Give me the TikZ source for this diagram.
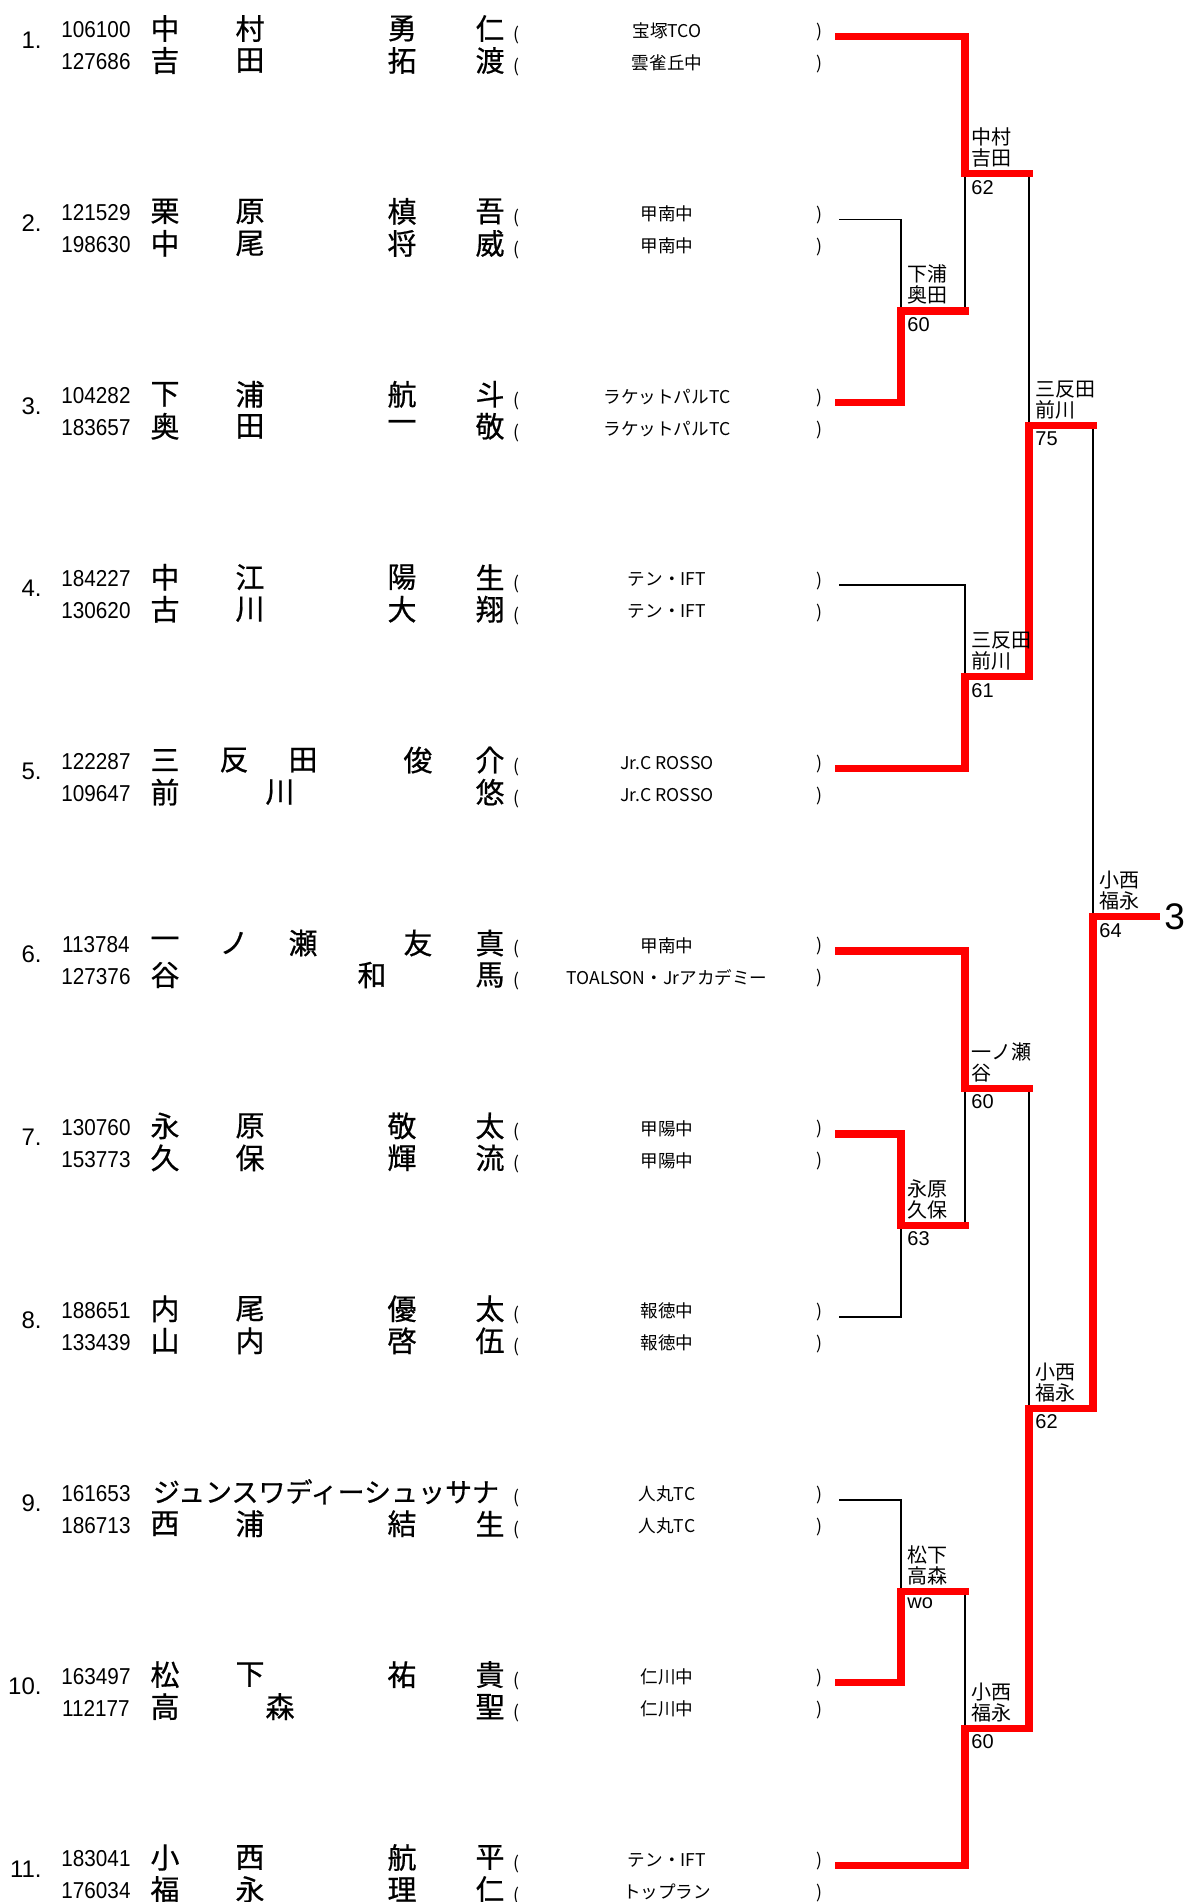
\documentclass[tikz,border=0pt]{standalone}
\usepackage{fontspec}
\setmainfont{Liberation Sans}
\newfontfamily\jpfont{Noto Sans CJK JP}
\newfontfamily\jpnamefont[FakeBold=0.6]{Noto Sans CJK JP}
\newfontfamily\idfont[FakeStretch=0.9]{Liberation Sans}
\usepackage{tikz}
\usetikzlibrary{positioning}

\begin{document}
\begin{tikzpicture}[
      x=0.5pt, y=-0.5pt,
      rowno/.style={font=\fontsize{12}{14}\selectfont, anchor=east, inner sep=0pt},
      pid/.style={font=\idfont\fontsize{11.5}{14}\selectfont, inner sep=0pt},
      nm/.style={font=\jpnamefont\fontsize{14.5}{16}\selectfont, inner sep=0pt},
      kana/.style={font=\jpnamefont\fontsize{13.5}{16}\selectfont, inner sep=0pt},
      club/.style={font=\jpfont\fontsize{8.8}{10}\selectfont, inner sep=0pt},
      lbl/.style={font=\jpfont\fontsize{10}{10.5}\selectfont, align=left, inner sep=0pt},
      score/.style={font=\fontsize{10}{12}\selectfont, inner sep=0pt},
      win/.style={draw=red, line width=3.6pt, line cap=rect},
      lose/.style={draw=black, line width=0.9pt}
    ]
    \useasboundingbox (0,0) rectangle (1186,1902);

    \foreach \r/\ida/\idb/\ca/\cb in {1/106100/127686/宝塚TCO/雲雀丘中, 2/121529/198630/甲南中/甲南中,
        3/104282/183657/ラケットパルTC/ラケットパルTC, 4/184227/130620/テン・IFT/テン・IFT,
        5/122287/109647/Jr.C ROSSO/Jr.C ROSSO, 6/113784/127376/甲南中/TOALSON・Jrアカデミー,
        7/130760/153773/甲陽中/甲陽中, 8/188651/133439/報徳中/報徳中, 9/161653/186713/人丸TC/人丸TC,
        10/163497/112177/仁川中/仁川中, 11/183041/176034/テン・IFT/トップラン}{
      \begin{scope}[shift={(0,{182.9*(\r-1)})}]
        \node[rowno] (no\r) at (42,40) {\r.};
        \node[pid] (ida\r) at (96,30) {\ida};
        \node[pid] (idb\r) at (96,62) {\idb};
        \node[club] (pa\r) at (516,35) {(};
        \node[club] (pb\r) at (516,67) {(};
        \node[club] (ca\r) at (667,31) {\ca};
        \node[club] (cb\r) at (667,63) {\cb};
        \node[club] (qa\r) at (819,32) {)};
        \node[club] (qb\r) at (819,64) {)};
        \coordinate (s\r) at (839,36.5);
      \end{scope}
    }

    \foreach \r/\la/\lb in {1/{165/中,250/村,402/勇,490/仁}/{165/吉,250/田,402/拓,490/渡},
        2/{165/栗,250/原,402/槙,490/吾}/{165/中,250/尾,402/将,490/威},
        3/{165/下,250/浦,402/航,490/斗}/{165/奥,250/田,402/一,490/敬},
        4/{165/中,250/江,402/陽,490/生}/{165/古,250/川,402/大,490/翔},
        5/{165/三,234/反,303/田,418/俊,490/介}/{165/前,280/川,490/悠},
        6/{165/一,234/ノ,303/瀬,418/友,490/真}/{165/谷,372/和,490/馬},
        7/{165/永,250/原,402/敬,490/太}/{165/久,250/保,402/輝,490/流},
        8/{165/内,250/尾,402/優,490/太}/{165/山,250/内,402/啓,490/伍},
        9/{}/{165/西,250/浦,402/結,490/生},
        10/{165/松,250/下,402/祐,490/貴}/{165/高,280/森,490/聖},
        11/{165/小,250/西,402/航,490/平}/{165/福,250/永,402/理,490/仁}}{
      \begin{scope}[shift={(0,{182.9*(\r-1)})}]
        \foreach \x/\c in \la \node[nm] (na\r-\x) at (\x,28.5) {\c};
        \foreach \x/\c in \lb \node[nm] (nb\r-\x) at (\x,60.5) {\c};
      \end{scope}
    }
    \node[kana] (na9) at (326,1491.7) {ジュンスワディーシュッサナ};

    \coordinate (m23) at (901,310.9);
    \coordinate (m78) at (901,1225.4);
    \coordinate (m910) at (901,1591.2);
    \coordinate (ma) at (965,173.7);
    \coordinate (mb) at (965,676.7);
    \coordinate (mc) at (965,1088.2);
    \coordinate (md) at (965,1728.3);
    \coordinate (mab) at (1029,425.2);
    \coordinate (mcd) at (1029,1408.3);
    \coordinate (fin) at (1093,916.7);
    \coordinate (tip) at (1156,916.7);

    \draw[lose] (s2) -| (m23);
    \draw[lose] (s4) -| (mb);
    \draw[lose] (s8) -| (m78);
    \draw[lose] (s9) -| (m910);
    \draw[lose] (m23 -| ma) -- (ma);
    \draw[lose] (m78 -| mc) -- (mc);
    \draw[lose] (m910 -| md) -- (md);
    \draw[lose] (ma -| mab) -- (mab);
    \draw[lose] (mc -| mcd) -- (mcd);
    \draw[lose] (mab -| fin) -- (fin);

    \draw[win] (s1) -| (ma);
    \draw[win] (s3) -| (m23);
    \draw[win] (s5) -| (mb);
    \draw[win] (s6) -| (mc);
    \draw[win] (s7) -| (m78);
    \draw[win] (s10) -| (m910);
    \draw[win] (s11) -| (md);
    \draw[win] (m23) -- (m23 -| ma);
    \draw[win] (m78) -- (m78 -| mc);
    \draw[win] (m910) -- (m910 -| md);
    \draw[win] (ma) -- (ma -| mab);
    \draw[win] (mb) -| (mab);
    \draw[win] (mc) -- (mc -| mcd);
    \draw[win] (md) -| (mcd);
    \draw[win] (mab) -- (mab -| fin);
    \draw[win] (mcd) -| (fin);
    \draw[win] (fin) -- (tip);

    \node[lbl, above right=3pt and 3pt of m23] (w23) {下浦\\奥田};
    \node[score, below right=3pt and 3pt of m23] (r23) {60};
    \node[lbl, above right=3pt and 3pt of m78] (w78) {永原\\久保};
    \node[score, below right=3pt and 3pt of m78] (r78) {63};
    \node[lbl, above right=3pt and 3pt of m910] (w910) {松下\\高森};
    \node[score, below right=3pt and 3pt of m910] (r910) {wo};
    \node[lbl, above right=3pt and 3pt of ma] (wa) {中村\\吉田};
    \node[score, below right=3pt and 3pt of ma] (ra) {62};
    \node[lbl, above right=3pt and 3pt of mb] (wb) {三反田\\前川};
    \node[score, below right=3pt and 3pt of mb] (rb) {61};
    \node[lbl, above right=3pt and 3pt of mc] (wc) {一ノ瀬\\谷};
    \node[score, below right=3pt and 3pt of mc] (rc) {60};
    \node[lbl, above right=3pt and 3pt of md] (wd) {小西\\福永};
    \node[score, below right=3pt and 3pt of md] (rd) {60};
    \node[lbl, above right=3pt and 3pt of mab] (wab) {三反田\\前川};
    \node[score, below right=3pt and 3pt of mab] (rab) {75};
    \node[lbl, above right=3pt and 3pt of mcd] (wcd) {小西\\福永};
    \node[score, below right=3pt and 3pt of mcd] (rcd) {62};
    \node[lbl, above right=3pt and 3pt of fin] (wfin) {小西\\福永};
    \node[score, below right=3pt and 3pt of fin] (rfin) {64};
    \node[font=\fontsize{18.5}{20}\selectfont, inner sep=0pt, right=4pt of tip] (place) {3};
  \end{tikzpicture}
\end{document}
